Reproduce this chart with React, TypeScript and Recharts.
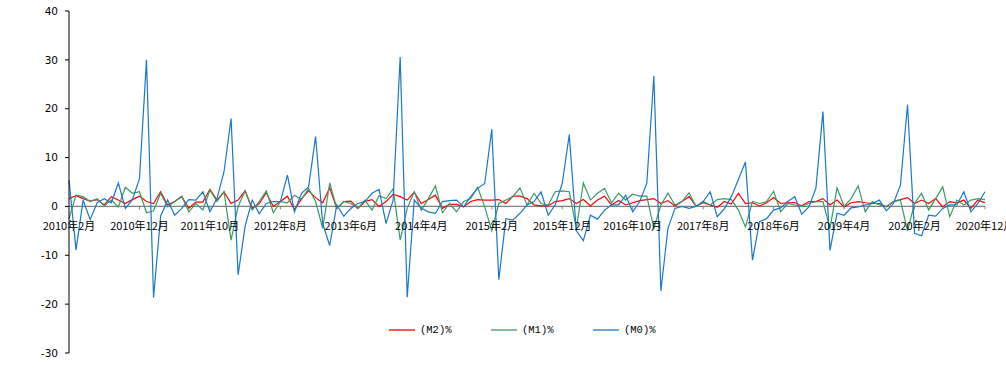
import { LineChart, Line, XAxis, YAxis, ReferenceLine, Legend } from 'recharts';

// monthly change (%) from 2010-02 to 2020-12
const START_YEAR = 2010;
const START_MONTH = 2;

const m2Pct = [
  1.6, 2.2, 1.6, 1.1, 1.4, 0.3, 2.0, 1.3, 0.6, 1.4, 2.1, 1.0, 0.6, 3.0, 0.3, 1.0, 2.0, -0.4, 0.9, 0.9,
  3.5, 1.3, 3.0, 0.6, 1.3, 3.2, -0.4, 0.6, 2.8, 0.0, 1.0, 2.1, -0.7, 1.6, 3.2, 1.8, 0.75, 3.8, -0.4, 1.0,
  1.1, -0.4, 1.0, 1.4, 0.0, 1.0, 2.5, 2.0, 1.3, 2.9, 0.6, 1.4, 2.3, -0.4, 0.4, 0.4, -0.1, 1.0, 1.4, 1.3,
  1.3, 1.4, 0.6, 2.1, 2.1, 1.6, 0.3, 0.1, 0.1, 1.0, 1.2, 1.6, 0.6, 1.4, 0.1, 1.3, 2.1, 0.3, 1.2, 0.3,
  0.75, 1.2, 1.4, 1.6, 0.6, 1.2, 0.1, 1.0, 2.0, 0.1, 0.75, 0.3, -0.2, 1.0, 0.5, 2.7, 0.6, 0.75, 0.1, 0.75,
  1.8, 0.6, 0.75, 0.8, 0.1, 1.0, 1.0, 1.6, 0.3, 1.3, -0.1, 0.75, 1.0, 0.75, 0.6, 0.6, -0.1, 1.0, 1.4, 1.8,
  0.6, 1.3, 0.6, 1.6, -0.1, 1.0, 0.75, 1.3, -0.4, 1.3, 0.75,
];

const m1Pct = [
  -2.5, 2.3, 2.0, 1.0, 1.6, 0.1, 1.3, -0.1, 3.9, 2.7, 3.0, -1.3, -0.9, 2.7, -0.1, 1.0, 2.1, -1.1, 0.6, -0.7,
  3.3, 1.0, 3.0, -6.9, 0.0, 3.2, -0.75, 1.0, 3.2, -1.3, 1.0, 0.75, 2.3, 1.4, 3.7, 1.0, -4.5, 4.8, -0.4, 1.0,
  0.6, -0.4, 1.3, -0.75, 2.2, 1.6, 3.6, -6.9, -0.4, 3.0, -0.75, 1.6, 4.2, -1.3, 0.6, -1.1, 1.0, 1.6, 3.9, -0.1,
  -5.0, 0.6, 1.3, 2.0, 3.8, 0.3, 2.7, 0.6, 0.3, 3.0, 3.2, 3.0, -4.5, 4.8, 1.3, 2.7, 3.7, 0.75, 2.7, 1.3,
  2.5, 2.1, 2.1, -4.5, 0.3, 2.7, 0.3, 1.0, 2.8, 0.0, 1.0, 0.3, 1.4, 1.6, 1.4, -0.75, -4.2, 1.0, 0.6, 1.0,
  3.1, -1.1, 0.6, 0.3, 0.0, 0.6, 1.0, 1.0, -4.5, 3.8, 0.0, 1.6, 4.2, -1.1, 1.0, 0.3, 0.0, 1.0, 1.3, -5.0,
  0.6, 2.7, -0.7, 1.6, 4.0, -2.1, 1.3, 0.3, 1.3, 1.6, 1.4,
];

const m0Pct = [
  5.4, -8.9, 1.3, -2.7, 0.75, 1.6, 0.75, 4.8, -0.4, 1.4, 5.7, 30.0, -18.7, -2.0, 1.3, -1.8, -0.4, 1.4, 1.3, 3.0,
  -1.1, 1.6, 7.1, 18.0, -14.0, -4.0, 1.3, -1.5, 0.6, 1.0, 1.0, 6.4, -1.1, 2.7, 4.0, 14.3, -3.5, -8.0, 0.3, -2.0,
  -0.4, 0.6, 1.0, 2.7, 3.5, -3.5, 1.3, 30.6, -18.6, 1.3, -0.4, -1.1, -1.4, 1.0, 1.2, 1.3, -0.1, 2.0, 3.7, 4.7,
  15.8, -15.0, -2.5, -2.8, -1.4, 0.3, 1.0, 3.0, -1.8, 0.3, 4.7, 14.7, -5.0, -7.0, -1.8, -2.6, -0.75, 0.3, 0.3, 2.3,
  -1.1, 1.0, 4.7, 26.7, -17.3, -4.5, -0.4, 0.0, -0.4, 0.0, 1.0, 3.0, -2.1, -0.5, 2.0, 5.5, 9.1, -11.0, -3.1, -2.5,
  -0.75, -0.3, 1.0, 2.0, -1.6, -0.1, 3.7, 19.4, -9.0, -1.4, -1.8, -0.3, -0.1, 0.3, 0.6, 1.3, -0.9, 0.6, 4.4, 20.8,
  -5.5, -6.0, -1.8, -2.0, -0.4, 0.3, 0.3, 3.0, -1.1, 0.6, 3.0,
];

const yTicks = [-30, -20, -10, 0, 10, 20, 30, 40];
const legendOrder = ['(M2)%', '(M1)%', '(M0)%'];

const months = m2Pct.map((_, i) => {
  const n = START_MONTH - 1 + i;
  return `${START_YEAR + Math.floor(n / 12)}年${(n % 12) + 1}月`;
});

const data = months.map((month, i) => ({
  month,
  m2: m2Pct[i],
  m1: m1Pct[i],
  m0: m0Pct[i],
}));

const WIDTH = 1006;
const HEIGHT = 382;
const TOP = 11;
const X_AXIS_H = 29;
const PLOT_H = HEIGHT - TOP - X_AXIS_H;
const ZERO_Y = TOP + (PLOT_H * 40) / 70;

// x labels sit on the zero line, not at the bottom of the plot
function MonthTick(props: any) {
  const { x, payload } = props;
  return (
    <g>
      <line x1={x} x2={x} y1={ZERO_Y} y2={ZERO_Y + 3} stroke="#808080" />
      <text
        x={x}
        y={ZERO_Y + 24}
        textAnchor="middle"
        fill="#000"
        fontSize={11}
        fontFamily="'Noto Sans CJK SC', sans-serif"
      >
        {payload.value}
      </text>
    </g>
  );
}

function SeriesLegend(props: any) {
  const items = [...(props.payload || [])].sort(
    (a: any, b: any) => legendOrder.indexOf(a.value) - legendOrder.indexOf(b.value)
  );
  return (
    <div style={{ display: 'flex', fontFamily: "'Liberation Mono', monospace", fontSize: 10.5, color: '#000' }}>
      {items.map((p: any) => (
        <div key={p.value} style={{ display: 'flex', alignItems: 'center', width: 102 }}>
          <svg width={26} height={4}>
            <line x1={0} y1={2} x2={26} y2={2} stroke={p.color} strokeWidth={1.3} />
          </svg>
          <span style={{ marginLeft: 5 }}>{p.value}</span>
        </div>
      ))}
    </div>
  );
}

export default function App() {
  return (
    <div style={{ position: 'absolute', left: 0, top: 0, width: WIDTH, height: HEIGHT, background: '#fff' }}>
      <LineChart width={WIDTH} height={HEIGHT} data={data} margin={{ top: TOP, right: 21, bottom: 0, left: 0 }}>
        <XAxis
          dataKey="month"
          height={X_AXIS_H}
          interval={9}
          axisLine={false}
          tickLine={false}
          tick={<MonthTick />}
        />
        <YAxis
          width={69}
          domain={[-30, 40]}
          ticks={yTicks}
          interval={0}
          stroke="#000"
          tickSize={4}
          tickMargin={7}
          tick={{ fill: '#000', fontSize: 10.5, fontFamily: 'DejaVu Sans, sans-serif' }}
        />
        <ReferenceLine y={0} stroke="#808080" strokeWidth={1.2} />
        <Legend
          verticalAlign="middle"
          align="center"
          content={<SeriesLegend />}
          wrapperStyle={{ left: 389, top: 324, width: 320 }}
        />
        <Line dataKey="m2" name="(M2)%" stroke="#ff0000" strokeWidth={1.2} dot={false} isAnimationActive={false} />
        <Line dataKey="m1" name="(M1)%" stroke="#3a9a68" strokeWidth={1.2} dot={false} isAnimationActive={false} />
        <Line dataKey="m0" name="(M0)%" stroke="#1b78c8" strokeWidth={1.2} dot={false} isAnimationActive={false} />
      </LineChart>
    </div>
  );
}
